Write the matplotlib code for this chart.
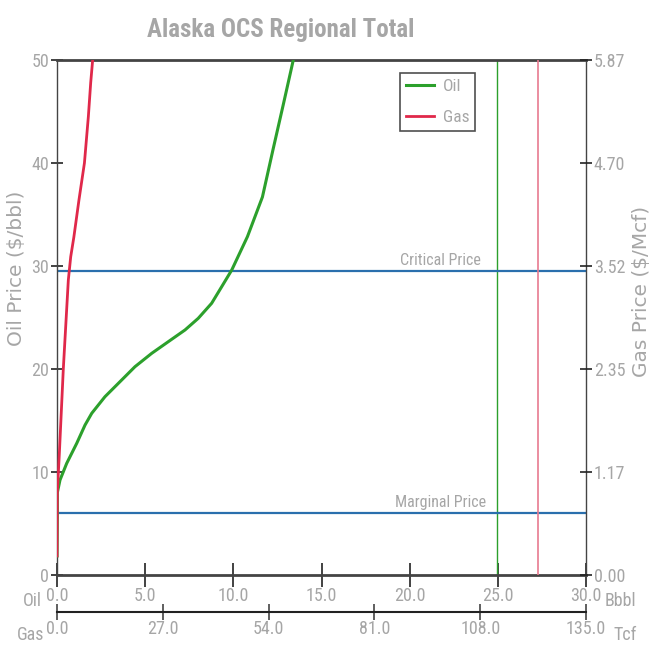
import numpy as np
import matplotlib
matplotlib.use("Agg")
import matplotlib.pyplot as plt

## 데이터
oil_x = [0.0, 0.02, 0.02, 0.17, 0.55, 1.12, 1.59, 1.97, 2.72, 3.48, 4.42, 5.37, 6.31, 7.26,
         8.01, 8.77, 9.34, 9.91, 10.8, 11.65, 12.25, 12.85, 13.4]
oil_y = [1.85, 6.0, 8.0, 9.22, 10.84, 12.79, 14.56, 15.70, 17.31, 18.61, 20.22, 21.52, 22.65,
         23.79, 24.92, 26.38, 27.99, 29.61, 32.85, 36.7, 41.3, 45.8, 50.0]

gas_x = [0.0, 0.05, 0.08, 0.6, 1.61, 2.89, 3.5, 4.3, 5.6, 7.0, 8.0, 8.6, 9.1]
gas_y = [1.85, 6.0, 8.0, 11.8, 20.0, 28.64, 30.9, 32.8, 36.4, 40.0, 44.5, 47.8, 50.0]

oil_mean = 24.95      # Bbbl
gas_mean = 122.7      # Tcf
critical_price = 29.5
marginal_price = 6.0

oil_ticks = [0, 5, 10, 15, 20, 25, 30]
gas_ticks = [0, 27, 54, 81, 108, 135]
left_ticks = [0, 10, 20, 30, 40, 50]
right_labels = ["0.00", "1.17", "2.35", "3.52", "4.70", "5.87"]

grey = "#a6a6a6"
narrow = ["Roboto Condensed", "Liberation Sans", "DejaVu Sans"]
plt.rcParams["font.family"] = ["Liberation Sans", "DejaVu Sans"]
ts = 13  # tick label size

fig = plt.figure(figsize=(6.51, 6.48), dpi=100)
W, H = 651, 648
ax = fig.add_axes([57 / W, (H - 575) / H, 529 / W, 515 / H])
ax.set_xlim(0, 30)
ax.set_ylim(0, 50)

ax.plot(oil_x, oil_y, color="#2ca02c", lw=2.2, label="Oil", zorder=4,
        solid_joinstyle="round")
ax.axvline(oil_mean, color="#2ca02c", lw=1)
ax.axhline(critical_price, color="#2a6fad", lw=1.6)
ax.axhline(marginal_price, color="#2a6fad", lw=1.6)
ax.text(21.75, critical_price + 0.35, "Critical Price", color=grey, ha="center", va="bottom",
        fontsize=11.5, family=narrow)
ax.text(21.75, marginal_price + 0.35, "Marginal Price", color=grey, ha="center", va="bottom",
        fontsize=11.5, family=narrow)

ax.set_xticks(oil_ticks)
ax.set_xticklabels(["%.1f" % t for t in oil_ticks], family=narrow)
ax.set_yticks(left_ticks)
ax.set_yticklabels([str(t) for t in left_ticks], family=narrow)
ax.tick_params(axis="x", direction="inout", length=17, width=1.2, colors="#222222",
               labelcolor=grey, labelsize=ts, pad=0)
ax.tick_params(axis="y", direction="inout", length=9, width=1.2, colors="#222222",
               labelcolor=grey, labelsize=ts, pad=1)
for s in ax.spines.values():
    s.set_color("#444444")
ax.spines["bottom"].set_linewidth(2)
ax.spines["top"].set_linewidth(2)
ax.spines["left"].set_linewidth(1)
ax.spines["right"].set_linewidth(1)

# gas 축 (위쪽 twin 을 아래로)
ax2 = ax.twiny()
ax2.set_xlim(0, 135)
ax2.plot(gas_x, gas_y, color="#e0284a", lw=2, label="Gas", zorder=3,
         solid_joinstyle="round")
ax2.axvline(gas_mean, color="#e87a90", lw=1.2)
ax2.xaxis.set_ticks_position("bottom")
ax2.spines["bottom"].set_position(("outward", 37 * 0.72))
ax2.spines["bottom"].set_color("#222222")
ax2.spines["bottom"].set_linewidth(1.5)
for k in ["top", "left", "right"]:
    ax2.spines[k].set_visible(False)
ax2.set_xticks(gas_ticks)
ax2.set_xticklabels(["%.1f" % t for t in gas_ticks], family=narrow)
ax2.tick_params(axis="x", direction="inout", length=11, width=1.2, colors="#444444",
                labelcolor=grey, labelsize=ts, pad=0)

# gas price 축
ax3 = ax.twinx()
ax3.set_ylim(0, 50)
ax3.set_yticks(left_ticks)
ax3.set_yticklabels(right_labels, family=narrow)
ax3.tick_params(axis="y", direction="inout", length=9, width=1.2, colors="#222222",
                labelcolor=grey, labelsize=ts, pad=1)
for s in ax3.spines.values():
    s.set_visible(False)

h1, l1 = ax.get_legend_handles_labels()
h2, l2 = ax2.get_legend_handles_labels()
leg = fig.legend(h1 + h2, l1 + l2, loc="upper left", bbox_to_anchor=(400 / W, 1 - 73 / H),
                 frameon=True, fancybox=False, handlelength=1.6,
                 labelcolor=grey, borderpad=0.35, handletextpad=0.5, labelspacing=0.9,
                 borderaxespad=0, prop={"family": narrow, "size": 12.5})
leg.get_frame().set_edgecolor("#222222")
leg.get_frame().set_linewidth(1.2)

fig.text(281 / W, 1 - 30 / H, "Alaska OCS Regional Total", ha="center", va="center",
         color=grey, fontsize=18, fontweight="bold", family=narrow)
fig.text(17 / W, 1 - 268 / H, "Oil Price ($/bbl)", ha="center", va="center", rotation=90,
         color=grey, fontsize=14.5, family="DejaVu Sans")
fig.text(641 / W, 1 - 291 / H, "Gas Price ($/Mcf)", ha="center", va="center", rotation=90,
         color=grey, fontsize=14.5, family="DejaVu Sans")
fig.text(42 / W, 1 - 601 / H, "Oil", ha="right", va="center", color=grey, fontsize=ts, family=narrow)
fig.text(44 / W, 1 - 635 / H, "Gas", ha="right", va="center", color=grey, fontsize=ts, family=narrow)
fig.text(605 / W, 1 - 601 / H, "Bbbl", ha="left", va="center", color=grey, fontsize=ts, family=narrow)
fig.text(613 / W, 1 - 635 / H, "Tcf", ha="left", va="center", color=grey, fontsize=ts, family=narrow)

fig.savefig("out.png", dpi=100)
